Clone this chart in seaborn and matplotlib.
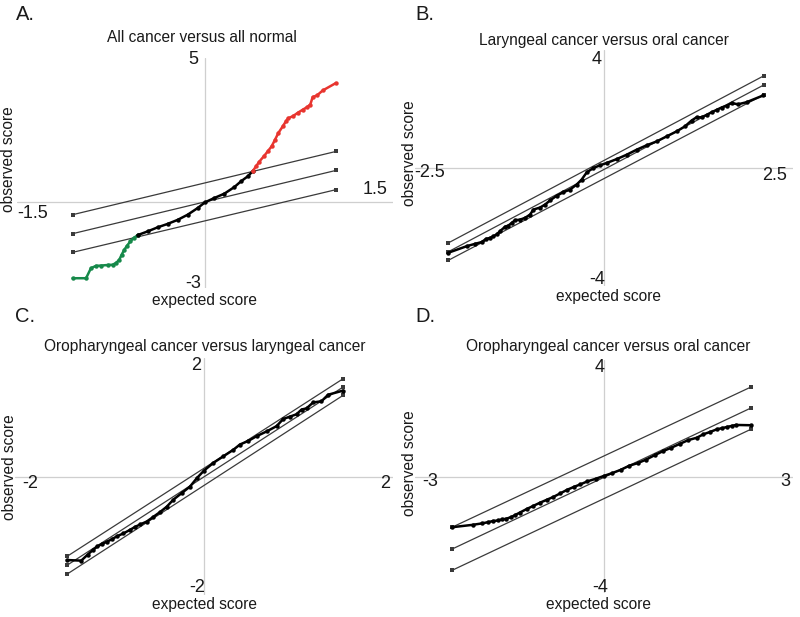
import numpy as np
import pandas as pd
import matplotlib
matplotlib.use('Agg')
import matplotlib.pyplot as plt
import seaborn as sns

# =============================================================================
# DATA: SAM-style plots, observed vs expected score
# =============================================================================

# --- A. All cancer versus all normal ---
a_xlim = (-1.5, 1.5)
a_ylim = (-3, 5)
a_line_x = [-1.056, 1.045]
a_upper = [-0.45, 1.75]
a_mid = [-1.11, 1.09]
a_lower = [-1.76, 0.42]
a_green_x = [-1.056, -0.949, -0.910, -0.870, -0.830, -0.777, -0.737, -0.710, -0.684,
             -0.665, -0.644, -0.622, -0.596, -0.569, -0.537]
a_green_y = [-2.66, -2.66, -2.31, -2.23, -2.22, -2.20, -2.19, -2.13, -2.02,
             -1.84, -1.67, -1.53, -1.38, -1.26, -1.16]
a_black_x = [-0.537, -0.457, -0.378, -0.298, -0.218, -0.138, -0.059, 0.0, 0.074,
             0.154, 0.234, 0.287, 0.340, 0.380]
a_black_y = [-1.16, -1.03, -0.89, -0.77, -0.63, -0.45, -0.22, -0.02, 0.13,
             0.28, 0.51, 0.71, 0.88, 1.06]
a_red_x = [0.380, 0.407, 0.434, 0.473, 0.500, 0.532, 0.559, 0.585, 0.620, 0.646,
           0.665, 0.699, 0.739, 0.779, 0.814, 0.840, 0.859, 0.894, 0.939, 1.045]
a_red_y = [1.06, 1.23, 1.40, 1.60, 1.75, 1.93, 2.16, 2.39, 2.62, 2.80,
           2.91, 2.97, 3.09, 3.20, 3.29, 3.38, 3.64, 3.70, 3.87, 4.13]

# --- B. Laryngeal cancer versus oral cancer ---
b_xlim = (-2.5, 2.5)
b_ylim = (-4, 4)
b_line_x = [-2.06, 2.11]
b_upper = [-2.54, 3.12]
b_mid = [-2.84, 2.81]
b_lower = [-3.13, 2.48]
b_x = [-2.057, -1.815, -1.705, -1.617, -1.559, -1.507, -1.463, -1.419, -1.374, -1.308,
       -1.264, -1.220, -1.176, -1.110, -1.044, -0.978, -0.934, -0.846, -0.780, -0.714,
       -0.626, -0.537, -0.449, -0.361, -0.295, -0.229, -0.141, -0.053, 0.035, 0.167,
       0.300, 0.432, 0.564, 0.696, 0.828, 0.960, 1.070, 1.159, 1.225, 1.291,
       1.357, 1.423, 1.489, 1.555, 1.621, 1.687, 1.775, 1.885, 2.106]
b_y = [-2.87, -2.65, -2.57, -2.51, -2.40, -2.37, -2.31, -2.25, -2.14, -1.99,
       -1.95, -1.86, -1.77, -1.75, -1.69, -1.58, -1.41, -1.34, -1.24, -1.10,
       -0.94, -0.82, -0.73, -0.56, -0.39, -0.15, 0.00, 0.09, 0.17, 0.30,
       0.45, 0.62, 0.77, 0.90, 1.07, 1.24, 1.41, 1.61, 1.72, 1.72,
       1.80, 1.89, 1.97, 2.05, 2.11, 2.20, 2.16, 2.23, 2.46]

# --- C. Oropharyngeal cancer versus laryngeal cancer ---
c_xlim = (-2, 2)
c_ylim = (-2, 2)
c_line_x = [-1.451, 1.472]
c_upper = [-1.35, 1.65]
c_mid = [-1.50, 1.51]
c_lower = [-1.65, 1.37]
c_x = [-1.451, -1.299, -1.232, -1.176, -1.127, -1.081, -1.028, -0.975, -0.923, -0.852,
       -0.782, -0.729, -0.676, -0.606, -0.535, -0.465, -0.394, -0.324, -0.236, -0.148,
       -0.077, 0.0, 0.099, 0.204, 0.310, 0.380, 0.468, 0.556, 0.662, 0.768,
       0.838, 0.908, 0.979, 1.032, 1.085, 1.155, 1.243, 1.313, 1.472]
c_y = [-1.41, -1.42, -1.32, -1.24, -1.18, -1.14, -1.10, -1.06, -1.01, -0.96,
       -0.90, -0.85, -0.81, -0.76, -0.68, -0.60, -0.51, -0.39, -0.28, -0.17,
       -0.03, 0.10, 0.23, 0.34, 0.45, 0.54, 0.60, 0.68, 0.76, 0.85,
       0.97, 1.01, 1.05, 1.13, 1.15, 1.25, 1.27, 1.38, 1.45]

# --- D. Oropharyngeal cancer versus oral cancer ---
d_xlim = (-3, 3)
d_ylim = (-4, 4)
d_line_x = [-2.41, 2.33]
d_upper = [-1.74, 3.07]
d_mid = [-2.49, 2.35]
d_lower = [-3.22, 1.62]
d_x = [-2.406, -2.086, -1.936, -1.845, -1.765, -1.684, -1.615, -1.551, -1.471, -1.417,
       -1.337, -1.230, -1.123, -1.016, -0.909, -0.802, -0.695, -0.588, -0.481, -0.374,
       -0.267, -0.134, 0.0, 0.134, 0.267, 0.401, 0.535, 0.668, 0.802, 0.936,
       1.070, 1.203, 1.337, 1.471, 1.578, 1.684, 1.791, 1.872, 1.952, 2.032,
       2.096, 2.326]
d_y = [-1.74, -1.66, -1.61, -1.57, -1.53, -1.51, -1.47, -1.45, -1.39, -1.33,
       -1.24, -1.12, -1.01, -0.90, -0.80, -0.70, -0.58, -0.46, -0.36, -0.27,
       -0.17, -0.08, 0.02, 0.12, 0.23, 0.37, 0.46, 0.58, 0.73, 0.87,
       0.99, 1.12, 1.25, 1.33, 1.45, 1.53, 1.62, 1.66, 1.70, 1.74,
       1.77, 1.76]

letters = ['A.', 'B.', 'C.', 'D.']
titles = ['All cancer versus all normal',
          'Laryngeal cancer versus oral cancer',
          'Oropharyngeal cancer versus laryngeal cancer',
          'Oropharyngeal cancer versus oral cancer']

# =============================================================================
# LAYOUT (pixel boxes of the four panels, 800x617 canvas)
# =============================================================================
W, H = 800, 617
sns.set_theme(style='white')
plt.rcParams['font.family'] = ['Liberation Sans', 'DejaVu Sans']

fig = plt.figure(figsize=(8, 6.17), dpi=100)

def px_axes(x0, y0, x1, y1):
    return fig.add_axes([x0 / W, 1 - y1 / H, (x1 - x0) / W, (y1 - y0) / H])

def ftext(x, y, s, **kw):
    fig.text(x / W, 1 - y / H, s, ha=kw.pop('ha', 'center'), va=kw.pop('va', 'center'),
             color='#1a1a1a', **kw)

LINE_C = '#3a3a3a'
AXIS_C = '#cfcfcf'
RED = '#e8352f'
GREEN = '#16894a'


def draw_panel(ax, xlim, ylim, line_x, upper, mid, lower, series):
    ax.axhline(0, color=AXIS_C, lw=0.9, zorder=0)
    ax.axvline(0, color=AXIS_C, lw=0.9, zorder=0)
    for ly in (upper, mid, lower):
        sns.lineplot(x=line_x, y=ly, ax=ax, color=LINE_C, lw=0.9, marker='s',
                     markersize=3.5, markeredgewidth=0, sort=False, zorder=2)
    for sx, sy, col in series:
        df = pd.DataFrame({'expected': sx, 'observed': sy})
        sns.lineplot(data=df, x='expected', y='observed', ax=ax, color=col, lw=1.8,
                     marker='o', markersize=3.2, markeredgewidth=0, sort=False, zorder=3)
    ax.set_xlim(*xlim)
    ax.set_ylim(*ylim)
    ax.set_xticks([])
    ax.set_yticks([])
    ax.set_xlabel('')
    ax.set_ylabel('')
    for s in ax.spines.values():
        s.set_visible(False)
    ax.patch.set_alpha(0)


def fmt(v):
    return f'{v:g}'


# --- Panel A ---
axA = px_axes(17, 58, 393, 288)
draw_panel(axA, a_xlim, a_ylim, a_line_x, a_upper, a_mid, a_lower,
           [(a_green_x, a_green_y, GREEN), (a_black_x, a_black_y, 'black'),
            (a_red_x, a_red_y, RED)])
# --- Panel B ---
axB = px_axes(415, 50, 793, 286)
draw_panel(axB, b_xlim, b_ylim, b_line_x, b_upper, b_mid, b_lower,
           [(b_x, b_y, 'black')])
# --- Panel C ---
axC = px_axes(15, 358, 393, 595)
draw_panel(axC, c_xlim, c_ylim, c_line_x, c_upper, c_mid, c_lower,
           [(c_x, c_y, 'black')])
# --- Panel D ---
axD = px_axes(415, 360, 793, 593)
draw_panel(axD, d_xlim, d_ylim, d_line_x, d_upper, d_mid, d_lower,
           [(d_x, d_y, 'black')])

# --- Text: letters, titles, axis labels, end values ---
FS = 13
ftext(25, 14, letters[0], fontsize=14.5)
ftext(425, 14, letters[1], fontsize=14.5)
ftext(25, 317, letters[2], fontsize=14.5)
ftext(425, 317, letters[3], fontsize=14.5)

ftext(202, 38, titles[0], fontsize=11.2)
ftext(604, 40, titles[1], fontsize=11.2)
ftext(205, 347, titles[2], fontsize=11.2)
ftext(608, 347, titles[3], fontsize=11.2)

for (x, y) in [(9, 159), (410, 153), (10, 467), (410, 463)]:
    ftext(x, y, 'observed score', fontsize=11.2, rotation=90)
for (x, y) in [(205, 301), (608, 296), (204, 605), (598, 605)]:
    ftext(x, y, 'expected score', fontsize=11.2)

# end-of-axis values: top, bottom, left, right
ends = [
    (a_xlim, a_ylim, [(193, 60), (193, 283), (33, 213), (375, 190)]),
    (b_xlim, b_ylim, [(597, 60), (597, 280), (430, 172), (775, 175)]),
    (c_xlim, c_ylim, [(196, 365), (197, 588), (30, 483), (385, 483)]),
    (d_xlim, d_ylim, [(600, 368), (600, 587), (430, 482), (785, 482)]),
]
for xl, yl, pos in ends:
    vals = [yl[1], yl[0], xl[0], xl[1]]
    for v, (x, y) in zip(vals, pos):
        ftext(x, y, fmt(v), fontsize=FS)

fig.savefig('out.png', dpi=100, facecolor='white')
